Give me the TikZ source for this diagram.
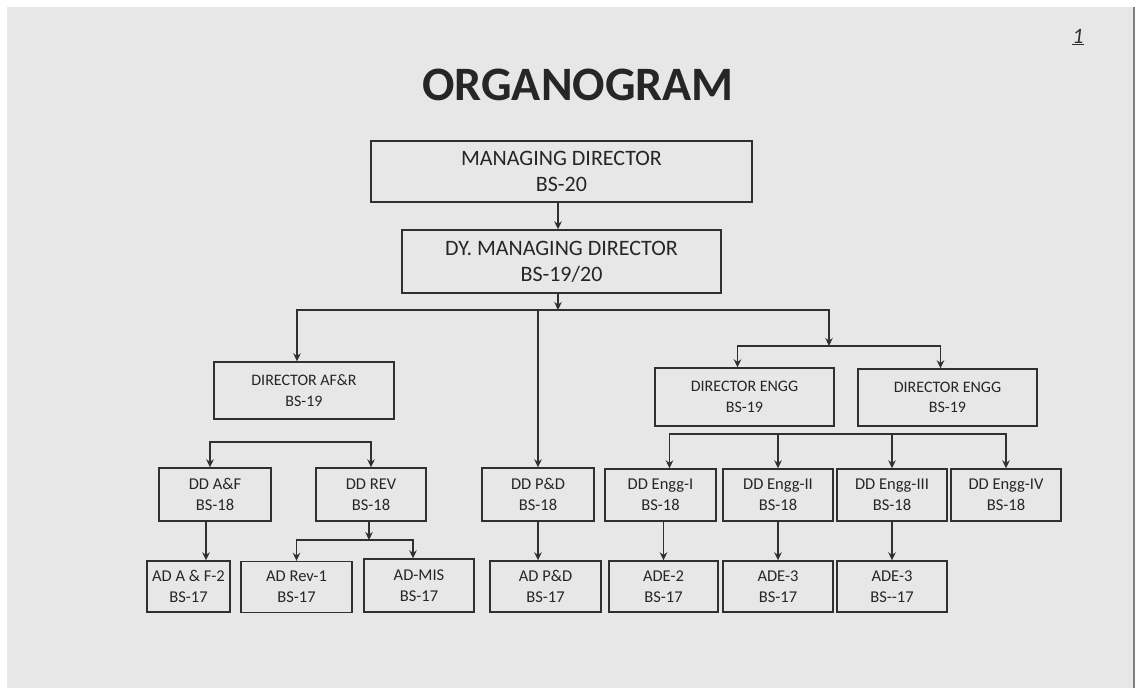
\documentclass[tikz,border=0pt]{standalone}
\usepackage{fontspec}
\setmainfont{Carlito}
\usepackage{tikz}
\usetikzlibrary{arrows.meta, calc, positioning}

\definecolor{paper}{HTML}{E7E7E7}
\definecolor{ink}{HTML}{303030}

\begin{document}
\begin{tikzpicture}[x=1pt, y=-1pt,
    box/.style={draw=ink, line width=1.4pt, text=black!85, align=center, inner sep=0pt,
        font=\fontsize{16.5}{21}\selectfont},
    bigbox/.style={box, font=\fontsize{22}{26}\selectfont},
    dirbox/.style={box, font=\fontsize{16}{20.5}\selectfont},
    arr/.style={draw=ink, line width=1.4pt, -{Stealth[length=8pt, width=7.5pt]}}]
    \useasboundingbox (0,0) rectangle (1140,688);
    % Paper
    \fill[white] (0,0) rectangle (1140,688);
    \fill[paper] (7,7) rectangle (1134,688);
    \draw[gray, line width=1.2pt] (1134,7) -- (1134,688);

    % Title and page number
    \node[text=black!85, font=\fontsize{48}{52}\selectfont\bfseries] (title) at (578,85) {ORGANOGRAM};
    \node[text=ink, font=\fontsize{22}{24}\selectfont\itshape] (pageno) at (1078,37) {\underline{1}};

    % Top level
    \node[bigbox, minimum width=381, minimum height=61] (md) at (561.5,171.5) {MANAGING DIRECTOR\\BS-20};
    \node[bigbox, minimum width=319, minimum height=63] (dmd) at (561.5,261.5) {DY. MANAGING DIRECTOR\\BS-19/20};

    % Directors
    \node[dirbox, minimum width=180, minimum height=57] (dafr) at (304,390.5) {DIRECTOR AF\&R\\BS-19};
    \node[dirbox, minimum width=179, minimum height=58] (dengA) at (744.5,397) {DIRECTOR ENGG\\BS-19};
    \node[dirbox, minimum width=179, minimum height=57] (dengB) at (947.5,397.5) {DIRECTOR ENGG\\BS-19};

    % Deputy directors
    \node[box, minimum width=112, minimum height=53] (ddaf) at (215,494.5) {DD A\&F\\BS-18};
    \node[box, minimum width=110, minimum height=53] (ddrev) at (371,494.5) {DD REV\\BS-18};
    \node[box, minimum width=112, minimum height=53] (ddpd) at (538,494.5) {DD P\&D\\BS-18};
    \node[box, minimum width=111, minimum height=52] (dde1) at (660.5,495) {DD Engg-I\\BS-18};
    \node[box, minimum width=110, minimum height=52] (dde2) at (778,495) {DD Engg-II\\BS-18};
    \node[box, minimum width=110, minimum height=52] (dde3) at (892,495) {DD Engg-III\\BS-18};
    \node[box, minimum width=110, minimum height=52] (dde4) at (1006,495) {DD Engg-IV\\BS-18};

    % Assistant directors
    \node[box, minimum width=83, minimum height=51] (adaf) at (188.5,586.5) {AD A \& F-2\\BS-17};
    \node[box, minimum width=111, minimum height=51] (adrev) at (296.5,587) {AD Rev-1\\BS-17};
    \node[box, minimum width=110, minimum height=53] (admis) at (419,585.5) {AD-MIS\\BS-17};
    \node[box, minimum width=111, minimum height=51] (adpd) at (545.5,586.5) {AD P\&D\\BS-17};
    \node[box, minimum width=109, minimum height=51] (ade2) at (663.5,586.5) {ADE-2\\BS-17};
    \node[box, minimum width=110, minimum height=51] (ade3a) at (778,586.5) {ADE-3\\BS-17};
    \node[box, minimum width=110, minimum height=51] (ade3b) at (892,586.5) {ADE-3\\BS-{}-17};

    % Junctions
    \coordinate (hub) at (558,310);
    \coordinate (engsplit) at (829,346);
    \coordinate (afbar) at (290,442);
    \coordinate (engbar) at (840,434);
    \coordinate (revsplit) at (369,540);

    % Connectors
    \draw[arr] ([xshift=-3.5pt]md.south) -- ([xshift=-3.5pt]dmd.north);
    \draw[arr] ([xshift=-3.5pt]dmd.south) -- (hub);
    \draw[arr] (hub) -| ([xshift=-7pt]dafr.north);
    \draw[arr] (hub) -| (engsplit);
    \draw[arr] (ddpd.north |- hub) -- (ddpd.north);
    \draw[arr] (engsplit) -| ([xshift=-7pt]dengA.north);
    \draw[arr] (engsplit) -| ([xshift=-7pt]dengB.north);

    \draw[arr] (afbar) -| ([xshift=-5pt]ddaf.north);
    \draw[arr] (afbar) -| (ddrev.north);
    \draw[arr] (engbar) -| ([xshift=9pt]dde1.north);
    \draw[arr] (engbar) -| (dde2.north);
    \draw[arr] (engbar) -| (dde3.north);
    \draw[arr] (engbar) -| (dde4.north);

    \draw[arr] ([xshift=-9pt]ddaf.south) -- ([xshift=-9pt]ddaf.south |- adaf.north);
    \draw[arr] (revsplit |- ddrev.south) -- (revsplit);
    \draw[arr] (revsplit) -| (adrev.north);
    \draw[arr] (revsplit) -| ([xshift=-6pt]admis.north);
    \draw[arr] (ddpd.south) -- (ddpd.south |- adpd.north);
    \draw[arr] (ade2.north |- dde1.south) -- (ade2.north);
    \draw[arr] (dde2.south) -- (ade3a.north);
    \draw[arr] (dde3.south) -- (ade3b.north);
\end{tikzpicture}
\end{document}
